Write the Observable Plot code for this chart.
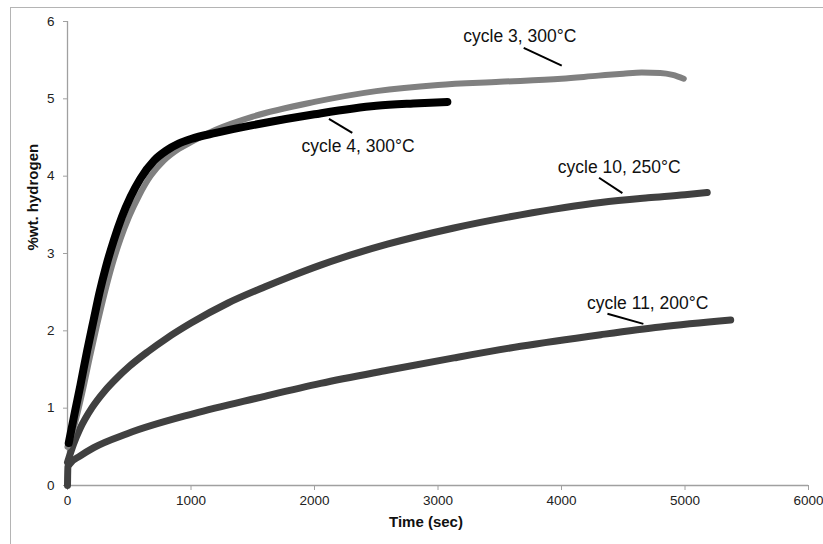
<!DOCTYPE html>
<html>
<head>
<meta charset="utf-8">
<script src="https://cdn.jsdelivr.net/npm/d3@7"></script>
<script src="https://cdn.jsdelivr.net/npm/@observablehq/plot@0.6"></script>
<style>
  html, body { margin: 0; padding: 0; background: #fff; }
  #wrap { position: relative; width: 823px; height: 544px; overflow: hidden; }
  #border { position: absolute; left: 10px; top: 7px; width: 830px; height: 560px;
            border-left: 1px solid #b4b4b4; border-top: 1px solid #b4b4b4; pointer-events: none; }
</style>
</head>
<body>
<div id="wrap"><div id="border"></div></div>
<script>
// ---- data ----
const xTicks = [0, 1000, 2000, 3000, 4000, 5000, 6000];
const yTicks = [0, 1, 2, 3, 4, 5, 6];

const cycle3Time = [0, 60, 120, 180, 240, 300, 360, 430, 500, 580, 672, 780, 900, 1000, 1200, 1500, 2000, 2500, 3000, 3500, 4000, 4300, 4500, 4650, 4800, 4900, 4990];
const cycle3H    = [0.5, 0.8, 1.2, 1.65, 2.08, 2.48, 2.84, 3.19, 3.48, 3.75, 4.0, 4.2, 4.35, 4.44, 4.6, 4.77, 4.96, 5.1, 5.18, 5.22, 5.26, 5.3, 5.325, 5.34, 5.335, 5.31, 5.26];

const cycle4Time = [10, 60, 105, 160, 213, 260, 310, 375, 440, 510, 591, 700, 800, 900, 1000, 1200, 1500, 2000, 2500, 2800, 3076];
const cycle4H    = [0.55, 0.95, 1.3, 1.75, 2.15, 2.5, 2.82, 3.17, 3.47, 3.73, 3.97, 4.2, 4.33, 4.42, 4.48, 4.56, 4.66, 4.8, 4.91, 4.94, 4.96];

const cycle10Time = [0, 50, 100, 200, 300, 400, 500, 650, 800, 1000, 1300, 1600, 1800, 2049, 2590, 3129, 3669, 4318, 4700, 5000, 5180];
const cycle10H    = [0.3, 0.54, 0.73, 1.01, 1.22, 1.39, 1.54, 1.73, 1.9, 2.1, 2.36, 2.57, 2.7, 2.85, 3.12, 3.33, 3.5, 3.66, 3.72, 3.76, 3.79];

const cycle11Time = [0, 3, 24, 100, 213, 483, 1023, 1563, 2049, 2590, 3129, 3669, 4318, 4800, 5370];
const cycle11H    = [0.0, 0.24, 0.29, 0.38, 0.49, 0.67, 0.93, 1.14, 1.32, 1.49, 1.65, 1.8, 1.95, 2.05, 2.14];

const labelText = ["cycle 3, 300°C", "cycle 4, 300°C", "cycle 10, 250°C", "cycle 11, 200°C"];
const labelTime = [3663, 2353, 4467, 4698];
const labelH    = [5.81, 4.39, 4.11, 2.36];
const leaderT1  = [3694, 2117, 4304, 4372];
const leaderH1  = [5.66, 4.74, 3.98, 2.22];
const leaderT2  = [4002, 2306, 4493, 4663];
const leaderH2  = [5.43, 4.56, 3.78, 2.09];

// ---- tables ----
const toRows = (ts, hs) => ts.map((t, i) => ({t, h: hs[i]}));
const c3 = toRows(cycle3Time, cycle3H);
const c4 = toRows(cycle4Time, cycle4H);
const c10 = toRows(cycle10Time, cycle10H);
const c11 = toRows(cycle11Time, cycle11H);
const labels = labelText.map((text, i) => ({text, t: labelTime[i], h: labelH[i],
  t1: leaderT1[i], h1: leaderH1[i], t2: leaderT2[i], h2: leaderH2[i]}));

const font = "'Liberation Sans', Arial, sans-serif";
const axisColor = "#a0a0a0";

const chart = Plot.plot({
  width: 823,
  height: 544,
  marginLeft: 67,
  marginRight: 15,
  marginTop: 21,
  marginBottom: 59,
  style: {fontFamily: font, fontSize: "13px", color: "#222", background: "transparent"},
  x: {domain: [0, 6000]},
  y: {domain: [0, 6]},
  marks: [
    Plot.ruleY([0], {stroke: axisColor, strokeWidth: 1.3}),
    Plot.ruleX([0], {stroke: axisColor, strokeWidth: 1.3}),
    Plot.axisX({ticks: xTicks, tickSize: 5, tickPadding: 5, stroke: axisColor, fill: "#222", fontSize: 13.5, label: null, tickFormat: d => String(d)}),
    Plot.axisY({ticks: yTicks, tickSize: 4, tickPadding: 9, stroke: axisColor, fill: "#222", fontSize: 13.5, label: null, tickFormat: d => String(d)}),
    Plot.line(c10, {x: "t", y: "h", stroke: "#404040", strokeWidth: 7, curve: "monotone-x", strokeLinecap: "round"}),
    Plot.line(c11, {x: "t", y: "h", stroke: "#404040", strokeWidth: 7, curve: "monotone-x", strokeLinecap: "round"}),
    Plot.line(c3, {x: "t", y: "h", stroke: "#808080", strokeWidth: 6, curve: "monotone-x", strokeLinecap: "round"}),
    Plot.line(c4, {x: "t", y: "h", stroke: "#000000", strokeWidth: 8, curve: "monotone-x", strokeLinecap: "round"}),
    Plot.link(labels, {x1: "t1", y1: "h1", x2: "t2", y2: "h2", stroke: "#000", strokeWidth: 2}),
    Plot.text(labels, {x: "t", y: "h", text: "text", fontSize: 17.5, fill: "#111", lineAnchor: "middle"}),
    Plot.text(["Time (sec)"], {frameAnchor: "bottom", dx: -12, dy: 37, fontSize: 15, fontWeight: "bold", fill: "#111", lineAnchor: "middle"}),
    Plot.text(["%wt. hydrogen"], {frameAnchor: "left", dx: -34, dy: -3, rotate: -90, fontSize: 15, fontWeight: "bold", fill: "#111", lineAnchor: "middle"})
  ]
});
chart.style.position = "absolute";
chart.style.left = "0px";
chart.style.top = "0px";
document.getElementById("wrap").prepend(chart);
</script>
</body>
</html>
